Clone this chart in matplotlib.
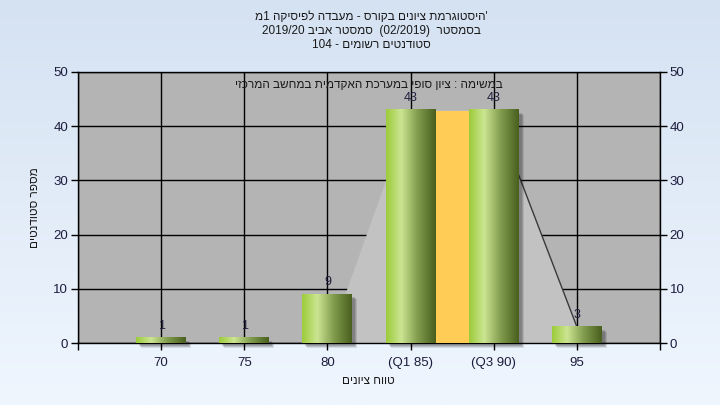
import re
import numpy as np
import matplotlib
matplotlib.use("Agg")
import matplotlib.pyplot as plt
from matplotlib.colors import LinearSegmentedColormap
from matplotlib.patches import Rectangle
from matplotlib.transforms import offset_copy

plt.rcParams['font.family'] = ['Liberation Sans Narrow', 'Liberation Sans', 'DejaVu Sans']

# data
categories = ['70', '75', '80', '(Q1 85)', '(Q3 90)', '95']
counts = [1, 1, 9, 43, 43, 3]
area_vals = [0, 0, 0, 43, 43, 3]
iqr_pos = 3.5
iqr_height = 42.8

title_lines = ["'היסטוגרמת ציונים בקורס - מעבדה לפיסיקה 1מ",
               "בסמסטר  (02/2019)  סמסטר אביב 2019/20",
               "סטודנטים רשומים - 104"]
subtitle = "במשימה : ציון סופי במערכת האקדמית במחשב המרכזי"
xlab = "טווח ציונים"
ylab = "מספר סטודנטים"


def vis(s):
    # crude right-to-left reordering so matplotlib draws hebrew in visual order
    r = s[::-1]
    r = re.sub(r'[0-9A-Za-z/.]+', lambda m: m.group(0)[::-1], r)
    return r.translate(str.maketrans('()', ')('))


fig = plt.figure(figsize=(7.2, 4.05), dpi=100)

# light blue background gradient
bg = fig.add_axes([0, 0, 1, 1], zorder=-10)
bg_cmap = LinearSegmentedColormap.from_list('bg', ['#eff6fe', '#d5e2f2'])
bg.imshow(np.linspace(0, 1, 256)[::-1].reshape(-1, 1), aspect='auto', cmap=bg_cmap,
          extent=[0, 1, 0, 1])
bg.axis('off')

ax = fig.add_axes([78 / 720, 62 / 405, 582 / 720, 271 / 405])
ax.set_facecolor('#b4b4b4')
x = np.arange(len(categories))

# light grey area behind the bars
ax.fill_between(x, area_vals, 0, color='#c2c2c2', zorder=1.5, lw=0)
ax.plot(x[4:], area_vals[4:], color='#3a3a3a', lw=1, zorder=1.6)
ax.plot(x[:3], area_vals[:3], color='#808080', lw=1, zorder=1.6)

bar_cmap = LinearSegmentedColormap.from_list(
    'bar', [(0, '#9ccb3a'), (0.3, '#cbe592'), (0.65, '#7f9a4c'), (1, '#485f1e')])
grad = np.linspace(0, 1, 128).reshape(1, -1)
w = 0.6


def shadow(xl, width, h):
    for off, a in [(5, 0.10), (4, 0.12), (3, 0.15)]:
        tr = offset_copy(ax.transData, fig=fig, x=off, y=-off, units='dots')
        ax.add_patch(Rectangle((xl, 0), width, h, transform=tr, facecolor='black',
                               alpha=a, lw=0, zorder=2.5, clip_on=False))


# orange interquartile bar
shadow(iqr_pos - 0.2, 0.4, iqr_height)
ax.add_patch(Rectangle((iqr_pos - 0.2, 0), 0.4, iqr_height, facecolor='#ffcc55',
                       lw=0, zorder=2.8))

for xi, v in zip(x, counts):
    shadow(xi - w / 2, w, v)
    ax.imshow(grad, extent=[xi - w / 2, xi + w / 2, 0, v], aspect='auto',
              cmap=bar_cmap, zorder=3, interpolation='bilinear')
    ax.annotate(str(v), (xi, v), xytext=(0, 12), textcoords='offset pixels',
                ha='center', va='center', fontsize=9, color='#202040', zorder=5)

ax.set_xlim(-1, 6)
ax.set_ylim(0, 50)
ax.set_xticks(np.arange(-1, 7))
ax.set_xticklabels([''] + categories + [''])
ax.set_yticks(range(0, 51, 10))
ax.grid(True, color='black', lw=1)
ax.set_axisbelow(True)
ax.tick_params(axis='both', direction='out', length=5, width=1, colors='black',
               labelcolor='#1c1c3c', labelsize=9.5)
ax.tick_params(axis='y', right=True, labelright=True, pad=2)
ax.tick_params(axis='x', pad=5)
for s in ax.spines.values():
    s.set_color('black')
    s.set_linewidth(1)

ax.text(0.5, 0.952, vis(subtitle), transform=ax.transAxes, ha='center', va='center',
        fontsize=8.5, color='#1a1a1a', zorder=6)

fig.text(371 / 720, 1 - 31 / 405, '\n'.join(vis(t) for t in title_lines),
         ha='center', va='center', multialignment='center', fontsize=8.5,
         color='#1a1a1a')
fig.text(368 / 720, 1 - 381 / 405, vis(xlab), ha='center', va='center', fontsize=8.5,
         color='#1a1a1a')
fig.text(35 / 720, 1 - 208 / 405, vis(ylab), ha='center', va='center', rotation=90,
         fontsize=8.5, color='#1a1a1a')

fig.savefig('out.png', dpi=100)
